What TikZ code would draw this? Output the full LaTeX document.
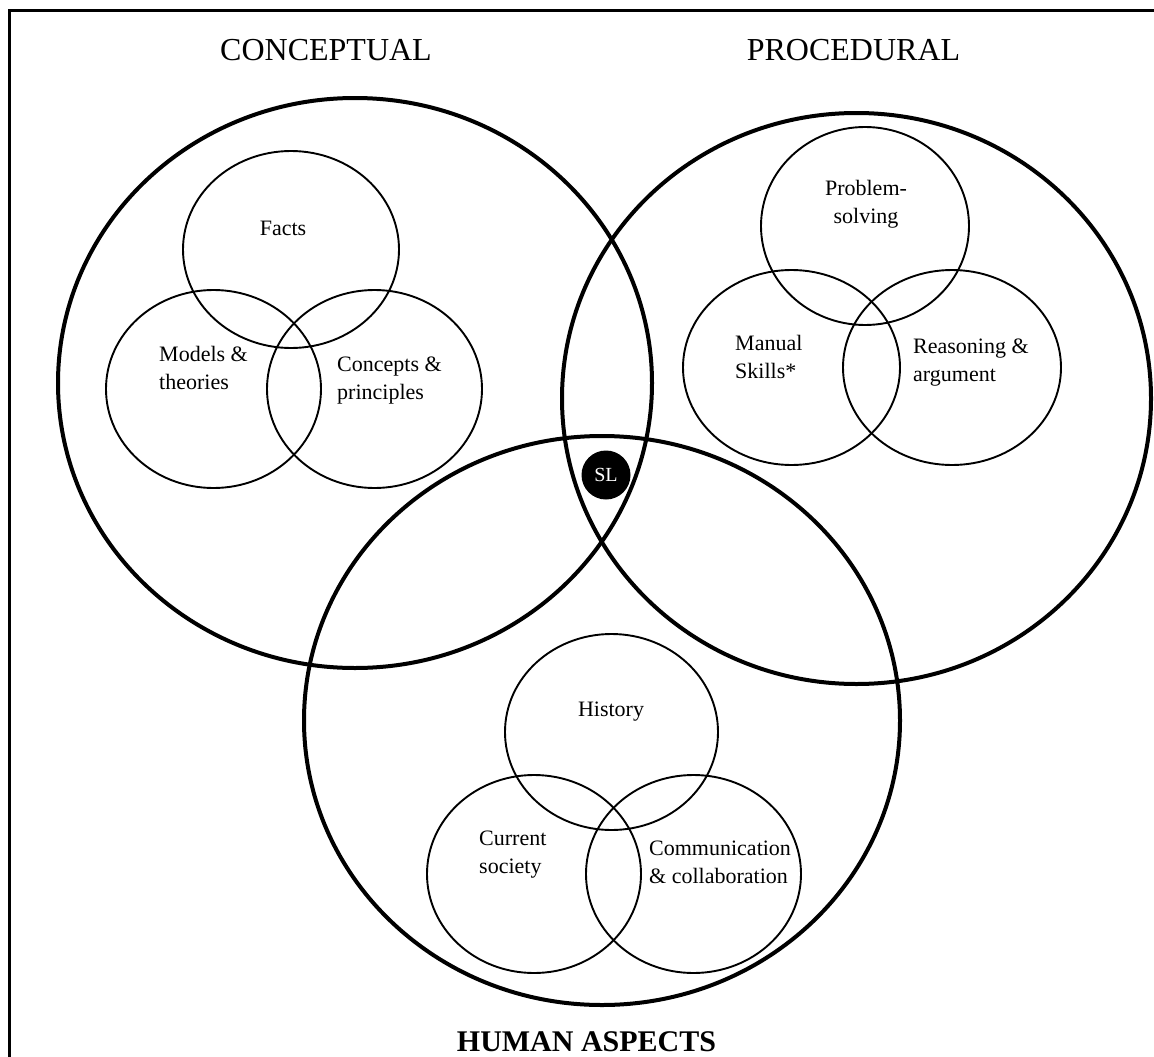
\documentclass[tikz,border=0pt]{standalone}
\usepackage{fontspec}
\setmainfont{Liberation Serif}
\begin{document}
\begin{tikzpicture}[x=1pt,y=-1pt,
  bigc/.style={line width=4pt},
  smallc/.style={line width=1.9pt},
  frameline/.style={line width=3pt},
  lbl/.style={inner sep=0pt, align=left, anchor=west, font=\fontsize{22}{28}\selectfont},
  clbl/.style={inner sep=0pt, align=center, font=\fontsize{22}{28}\selectfont},
  title/.style={inner sep=0pt, anchor=base, font=\fontsize{32}{38}\selectfont}]
\useasboundingbox (0,0) rectangle (1154,1057);
\fill[white] (0,0) rectangle (1154,1057);
% frame
\draw[frameline] (9,1060) -- (9,11) -- (1160,11);
% big circles
\draw[bigc] (355,383) ellipse [x radius=297, y radius=285];
\draw[bigc] (856.5,398.5) ellipse [x radius=294.5, y radius=285.5];
\draw[bigc] (602,720.5) ellipse [x radius=298, y radius=284.5];
% conceptual sub-ellipses
\draw[smallc] (291,249.5) ellipse [x radius=108, y radius=98.5];
\draw[smallc] (213.5,389) ellipse [x radius=107.5, y radius=99];
\draw[smallc] (374.5,389) ellipse [x radius=107.5, y radius=99];
% procedural sub-ellipses
\draw[smallc] (865,226) ellipse [x radius=104, y radius=99];
\draw[smallc] (791.5,367.5) ellipse [x radius=108.5, y radius=97.5];
\draw[smallc] (952,367.5) ellipse [x radius=109, y radius=97.5];
% human sub-ellipses
\draw[smallc] (611.5,732) ellipse [x radius=106.5, y radius=98];
\draw[smallc] (534,874) ellipse [x radius=107, y radius=99];
\draw[smallc] (693.5,874) ellipse [x radius=107.5, y radius=99];
% titles
\node[title] (tconc) at (326,61) {CONCEPTUAL};
\node[title] (tproc) at (853.5,61) {PROCEDURAL};
\node[title, font=\fontsize{30}{36}\selectfont\bfseries] (thum) at (586.5,1051) {HUMAN ASPECTS};
% labels
\node[clbl] (facts) at (283,228) {Facts};
\node[lbl] (models) at (159,368) {Models \&\\theories};
\node[lbl] (concepts) at (337,381) {Concepts \&\\principles};
\node[clbl] (problem) at (866,204) {Problem-\\solving};
\node[lbl] (manual) at (735,357) {Manual\\Skills*};
\node[lbl] (reason) at (913,363) {Reasoning \&\\argument};
\node[clbl] (history) at (611,712) {History};
\node[lbl] (current) at (479,855) {Current\\society};
\node[lbl] (comm) at (649,862) {Communication\\\& collaboration};
% SL
\node[circle, fill=black, inner sep=0pt, minimum size=49pt, text=white,
  font=\fontsize{20}{24}\selectfont] (sl) at (606,475) {SL};
\end{tikzpicture}
\end{document}
